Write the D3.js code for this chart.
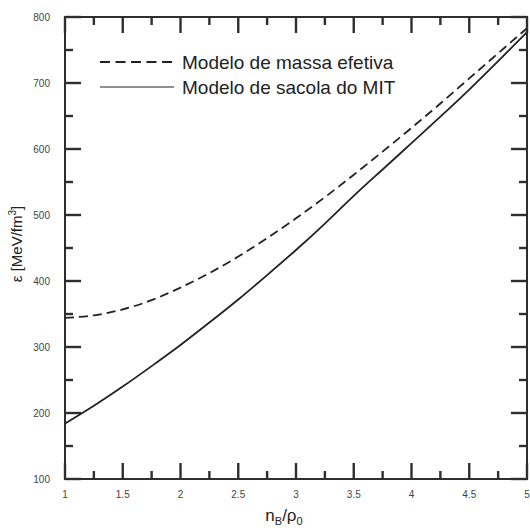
<!DOCTYPE html>
<meta charset="utf-8">
<style>
body { margin: 0; background: #fff; }
svg, .text { font-family: 'Liberation Sans', Arial, sans-serif; }
</style>
<body>
<script src="https://cdnjs.cloudflare.com/ajax/libs/d3/7.8.5/d3.min.js"></script>
<script>

// densidade n_B/rho_0
var nB = [1, 1.25, 1.5, 1.75, 2, 2.25, 2.5, 2.75, 3, 3.25, 3.5, 3.75, 4, 4.25, 4.5, 4.75, 5];
// modelo de massa efetiva (tracejado)
var massaEfetiva = [344, 348, 357, 371, 390, 412, 437, 465, 495, 527, 561, 596, 632, 669, 707, 745, 783];
// modelo de sacola do MIT (linha cheia)
var sacolaMIT = [184, 211, 240, 271, 303, 337, 372, 409, 447, 487, 529, 569, 609, 649, 690, 733, 777];

var xTicks = [1, 1.5, 2, 2.5, 3, 3.5, 4, 4.5, 5];
var xMinor = [1.25, 1.75, 2.25, 2.75, 3.25, 3.75, 4.25, 4.75];
var yTicks = [100, 200, 300, 400, 500, 600, 700, 800];
var yMinor = [150, 250, 350, 450, 550, 650, 750];

var legendLabels = ["Modelo de massa efetiva", "Modelo de sacola do MIT"];

var W = 530, H = 532;
var margin = {top: 17, right: 3, bottom: 53, left: 65},
    width = W - margin.left - margin.right,
    height = H - margin.top - margin.bottom;

var x = d3.scaleLinear().domain([1, 5]).range([0, width]),
    y = d3.scaleLinear().domain([100, 800]).range([height, 0]);

var svg = d3.select("body").append("svg")
    .attr("width", W)
    .attr("height", H);

var g = svg.append("g")
    .attr("transform", "translate(" + margin.left + "," + margin.top + ")");

var axisColor = "#2e2e2e";
var major = 16, minor = 8;

// ticks para dentro nos quatro lados
var tickData = [];
xTicks.forEach(function(v) { tickData.push({v: v, len: major, side: "x"}); });
xMinor.forEach(function(v) { tickData.push({v: v, len: minor, side: "x"}); });
yTicks.forEach(function(v) { tickData.push({v: v, len: major, side: "y"}); });
yMinor.forEach(function(v) { tickData.push({v: v, len: minor, side: "y"}); });

var tk = svg.append("g")
    .attr("transform", "translate(" + margin.left + "," + margin.top + ")");
tk.selectAll("line.b")
    .data(tickData)
    .enter().append("line")
    .attr("class", "b")
    .attr("x1", function(d) { return d.side == "x" ? x(d.v) : 0; })
    .attr("x2", function(d) { return d.side == "x" ? x(d.v) : d.len; })
    .attr("y1", function(d) { return d.side == "x" ? height : y(d.v); })
    .attr("y2", function(d) { return d.side == "x" ? height - d.len : y(d.v); })
    .style("stroke", axisColor)
    .style("stroke-width", "2.4px");
tk.selectAll("line.t")
    .data(tickData)
    .enter().append("line")
    .attr("class", "t")
    .attr("x1", function(d) { return d.side == "x" ? x(d.v) : width; })
    .attr("x2", function(d) { return d.side == "x" ? x(d.v) : width - d.len; })
    .attr("y1", function(d) { return d.side == "x" ? 0 : y(d.v); })
    .attr("y2", function(d) { return d.side == "x" ? d.len : y(d.v); })
    .style("stroke", axisColor)
    .style("stroke-width", "2.4px");

// moldura
g.append("rect")
    .attr("width", width)
    .attr("height", height)
    .attr("fill", "none")
    .attr("stroke", axisColor)
    .attr("stroke-width", 2);

// rotulos dos ticks
g.selectAll("text.xt")
    .data(xTicks)
    .enter().append("text")
    .attr("class", "xt")
    .attr("x", x)
    .attr("y", height + 19)
    .style("text-anchor", "middle")
    .style("font-size", "10px")
    .attr("fill", "#444")
    .text(function(d) { return String(d); });

g.selectAll("text.yt")
    .data(yTicks)
    .enter().append("text")
    .attr("class", "yt")
    .attr("x", -15)
    .attr("y", function(d) { return y(d) + 3.5; })
    .style("text-anchor", "end")
    .style("font-size", "10px")
    .attr("fill", "#444")
    .text(function(d) { return d; });

var line = d3.line()
    .curve(d3.curveNatural)
    .x(function(d, i) { return x(nB[i]); })
    .y(function(d) { return y(d); });

g.append("path")
    .datum(massaEfetiva)
    .attr("fill", "none")
    .attr("stroke", "#222")
    .attr("stroke-width", 1.8)
    .attr("stroke-dasharray", "9,5")
    .attr("d", line);

g.append("path")
    .datum(sacolaMIT)
    .attr("fill", "none")
    .attr("stroke", "#222")
    .attr("stroke-width", 1.8)
    .attr("d", line);

// legenda
var legend = g.append("g").attr("transform", "translate(35,45)");
legend.append("line")
    .attr("x1", 0).attr("x2", 72).attr("y1", 0).attr("y2", 0)
    .attr("stroke", "#222").attr("stroke-width", 1.8).attr("stroke-dasharray", "10,5.5");
legend.append("line")
    .attr("x1", 0).attr("x2", 74).attr("y1", 25).attr("y2", 25)
    .attr("stroke", "#222").attr("stroke-width", 1.1);
legend.selectAll("text.leg")
    .data(legendLabels)
    .enter().append("text")
    .attr("class", "leg")
    .attr("x", 82)
    .attr("y", function(d, i) { return i * 25 + 7; })
    .style("font-size", "19px")
    .attr("fill", "#222")
    .text(function(d) { return d; });

// rotulos dos eixos
var xl = svg.append("text")
    .attr("x", 284)
    .attr("y", 521)
    .style("text-anchor", "middle")
    .style("font-size", "17px")
    .attr("fill", "#222");
xl.append("tspan").text("n");
xl.append("tspan").attr("dy", 4).style("font-size", "11px").text("B");
xl.append("tspan").attr("dy", -4).text("/ρ");
xl.append("tspan").attr("dy", 4).style("font-size", "11px").text("0");

var yl = svg.append("text")
    .attr("transform", "translate(22,244) rotate(-90)")
    .style("text-anchor", "middle")
    .style("font-size", "15px")
    .attr("fill", "#222");
yl.append("tspan").text("ε [MeV/fm");
yl.append("tspan").attr("dy", -6).style("font-size", "10px").text("3");
yl.append("tspan").attr("dy", 6).text("]");

</script>
</body>
